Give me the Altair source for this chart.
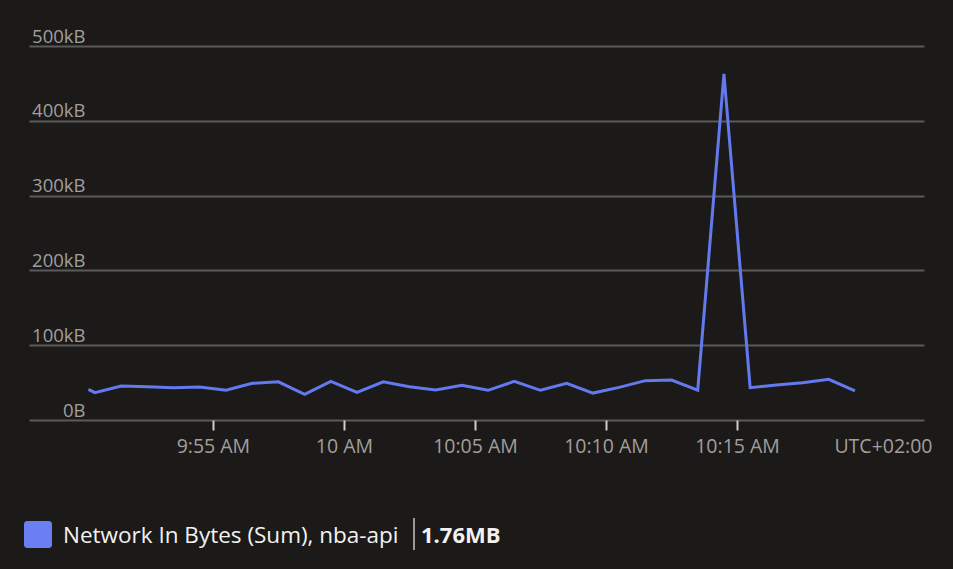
import altair as alt
import pandas as pd

# ---- data ----
times = ["09:50:15", "09:50:30", "09:51:30", "09:52:30", "09:53:30", "09:54:30",
         "09:55:30", "09:56:30", "09:57:30", "09:58:30", "09:59:30", "10:00:30",
         "10:01:30", "10:02:30", "10:03:30", "10:04:30", "10:05:30", "10:06:30",
         "10:07:30", "10:08:30", "10:09:30", "10:10:30", "10:11:30", "10:12:30",
         "10:13:30", "10:14:30", "10:15:30", "10:16:30", "10:17:30", "10:18:30",
         "10:19:30"]
values_kb = [41, 36.5, 45.5, 44.5, 43, 44,
             39.7, 49, 51, 34.3, 51.7, 37,
             51, 44.5, 40, 46.5, 39.7, 51.7,
             39.7, 49, 36, 43.6, 52.6, 53.5,
             40, 462.6, 43.2, 46.8, 49.9, 54.4,
             38.8]
series_name = "Network In Bytes (Sum), nba-api"
total_label = "1.76MB"
timezone_label = "UTC+02:00"
y_ticks = [0, 100, 200, 300, 400, 500]
x_tick_times = [(9, 55), (10, 0), (10, 5), (10, 10), (10, 15)]

BG = "#1b1a19"
LINE = "#6379ef"
AXIS_TXT = "#a19f9d"
LEG_TXT = "#f3f2f1"
FONT = "Open Sans"


def dt(h, m, s=0):
    return alt.DateTime(year=2024, month=1, date=1, hours=h, minutes=m,
                        seconds=s, utc=True)


df = pd.DataFrame({
    "time": ["2024-01-01T" + t + "Z" for t in times],
    "value": values_kb,
    "series": series_name,
})

line = alt.Chart(df).mark_line(strokeWidth=3, color=LINE).encode(
    x=alt.X(
        "time:T",
        scale=alt.Scale(type="utc", domain=[dt(9, 47, 59), dt(10, 22, 8)]),
        axis=alt.Axis(
            values=[dt(h, m) for h, m in x_tick_times],
            labelExpr="replace(utcFormat(datum.value, '%-I:%M %p'), ':00 ', ' ')",
            ticks=True, tickSize=10, tickWidth=2, tickColor="#cfcfcf",
            domain=False, grid=False,
            labelColor=AXIS_TXT, labelFont=FONT, labelFontSize=19.5,
            labelBaseline="alphabetic", labelPadding=22, labelFlush=False,
            labelOverlap=False,
            title=timezone_label, titleAnchor="end", titleAlign="right",
            titleBaseline="alphabetic", titleX=903, titleY=32,
            titleFont=FONT, titleFontSize=19.5, titleFontWeight="normal",
            titleColor=AXIS_TXT,
        ),
    ),
    y=alt.Y(
        "value:Q",
        scale=alt.Scale(domain=[0, 500], nice=False),
        axis=alt.Axis(
            values=y_ticks,
            labelExpr="datum.value == 0 ? '0B' : datum.value + 'kB'",
            ticks=False, domain=False,
            grid=True, gridColor="#5a5a5a", gridWidth=2,
            labelColor=AXIS_TXT, labelFont=FONT, labelFontSize=18.5,
            labelAlign="right", labelBaseline="alphabetic",
            labelPadding=-56, labelOffset=-4, labelOverlap=False,
            title=None,
        ),
    ),
)

legend_df = pd.DataFrame({"series": [series_name], "total": [total_label]})

legend_square = alt.Chart(legend_df).mark_rect(
    color="#6a7ff2", cornerRadius=3
).encode(
    x=alt.value(-5), x2=alt.value(23), y=alt.value(475), y2=alt.value(502)
)

legend_text = alt.Chart(legend_df).mark_text(
    align="left", baseline="alphabetic", font=FONT, fontSize=22.5, color=LEG_TXT
).encode(text="series:N", x=alt.value(34), y=alt.value(497))

legend_sep = alt.Chart(legend_df).mark_rule(
    color="#c8c6c4", strokeWidth=1.5
).encode(x=alt.value(385), y=alt.value(472), y2=alt.value(504))

legend_total = alt.Chart(legend_df).mark_text(
    align="left", baseline="alphabetic", font=FONT, fontSize=22,
    fontWeight="bold", color=LEG_TXT
).encode(text="total:N", x=alt.value(392), y=alt.value(497))

chart = alt.layer(line, legend_square, legend_text, legend_sep, legend_total).properties(
    width=895, height=374,
    padding={"left": 29, "top": 46, "right": 29, "bottom": 149},
    autosize=alt.AutoSizeParams(type="none"),
    background=BG,
).configure_view(stroke=None)

chart.save("out.html", embed_options={"renderer": "svg", "actions": False})
